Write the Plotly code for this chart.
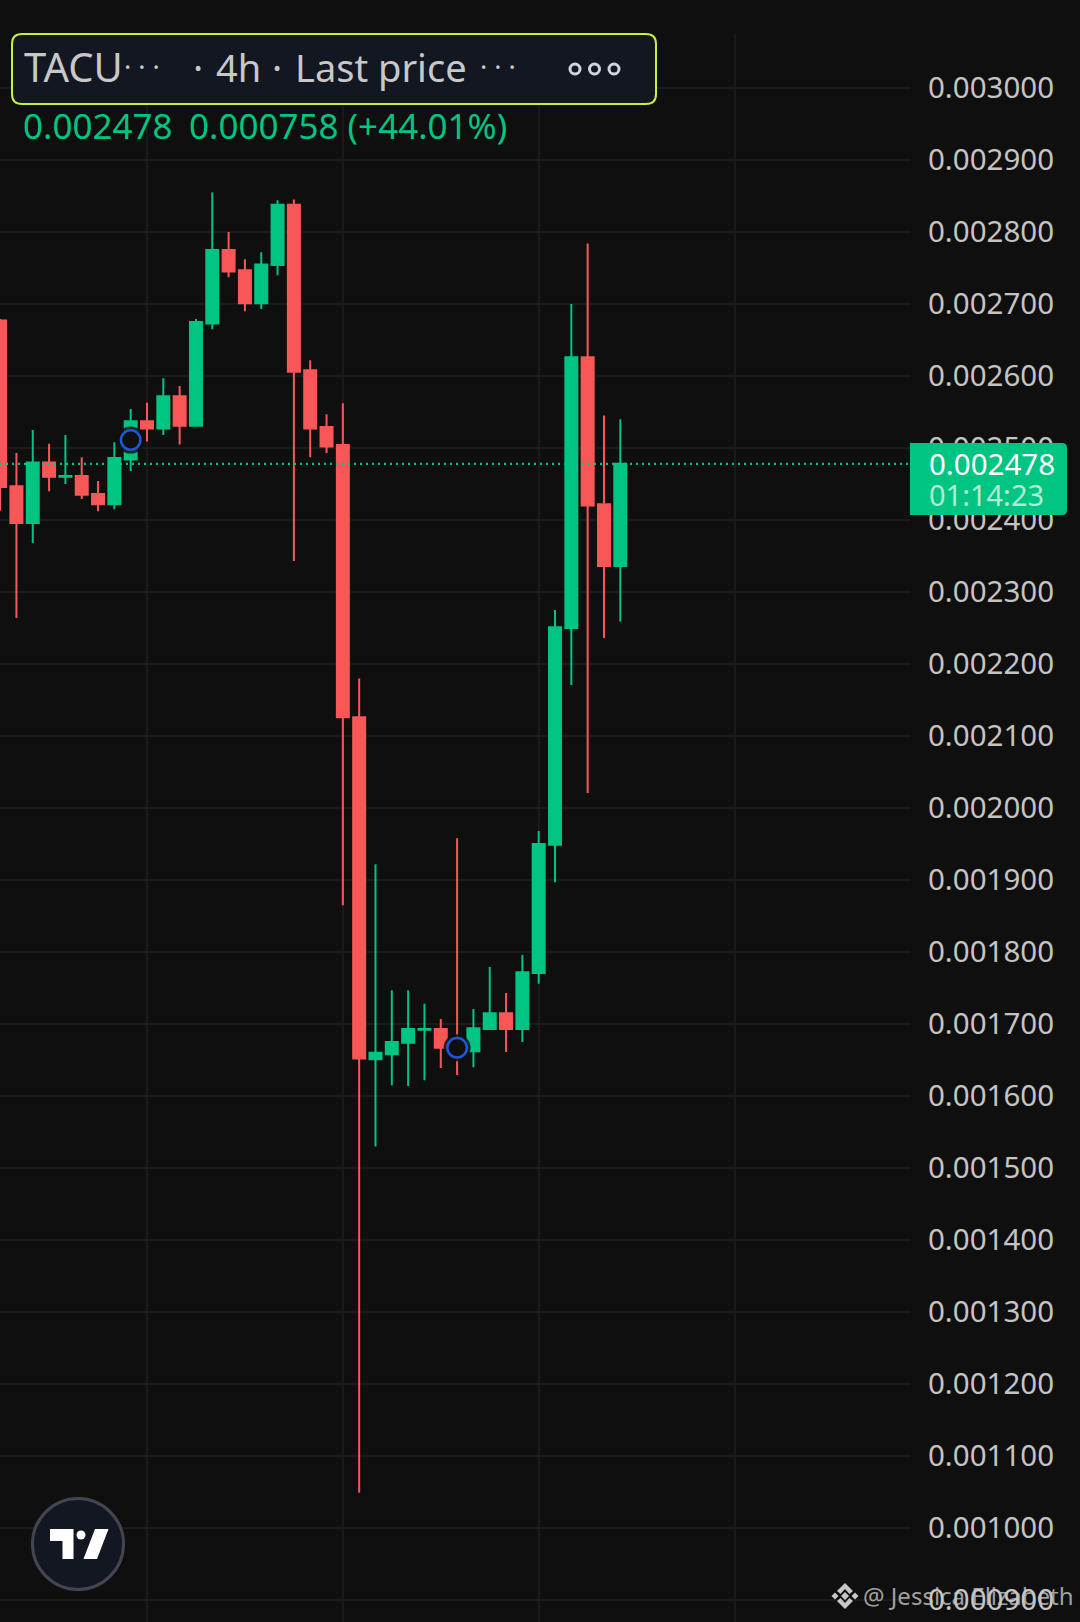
import plotly.graph_objects as go

W, H = 1080, 1622

# candles
idx = list(range(39))
open_ = [0.002677, 0.002447, 0.002396, 0.002480, 0.002460, 0.002461, 0.002436, 0.002422, 0.002484, 0.002537,
         0.002527, 0.002572, 0.002531, 0.002673, 0.002775, 0.002747, 0.002701, 0.002754, 0.002838, 0.002608,
         0.002529, 0.002504, 0.002126, 0.001651, 0.001658, 0.001674, 0.001692, 0.001693, 0.001667, 0.001662,
         0.001693, 0.001715, 0.001693, 0.001771, 0.001949, 0.002250, 0.002626, 0.002422, 0.002336]
high = [0.002679, 0.002493, 0.002525, 0.002506, 0.002518, 0.002487, 0.002454, 0.002508, 0.002554, 0.002563,
        0.002597, 0.002586, 0.002679, 0.002855, 0.002800, 0.002762, 0.002772, 0.002844, 0.002845, 0.002622,
        0.002547, 0.002562, 0.002180, 0.001922, 0.001747, 0.001747, 0.001728, 0.001707, 0.001958, 0.001721,
        0.001779, 0.001743, 0.001796, 0.001968, 0.002275, 0.002700, 0.002784, 0.002545, 0.002540]
low = [0.002413, 0.002264, 0.002368, 0.002440, 0.002450, 0.002429, 0.002412, 0.002415, 0.002468, 0.002509,
       0.002518, 0.002505, 0.002531, 0.002665, 0.002737, 0.002690, 0.002693, 0.002740, 0.002343, 0.002487,
       0.002493, 0.001865, 0.001049, 0.001530, 0.001615, 0.001614, 0.001622, 0.001639, 0.001629, 0.001640,
       0.001693, 0.001661, 0.001675, 0.001756, 0.001897, 0.002171, 0.002021, 0.002236, 0.002259]
close = [0.002446, 0.002396, 0.002480, 0.002460, 0.002461, 0.002435, 0.002422, 0.002486, 0.002537, 0.002527,
         0.002572, 0.002531, 0.002675, 0.002775, 0.002745, 0.002701, 0.002755, 0.002838, 0.002606, 0.002527,
         0.002502, 0.002126, 0.001652, 0.001660, 0.001675, 0.001693, 0.001693, 0.001667, 0.001665, 0.001694,
         0.001715, 0.001693, 0.001772, 0.001950, 0.002251, 0.002626, 0.002420, 0.002336, 0.002478]

price_ticks = [0.0030, 0.0029, 0.0028, 0.0027, 0.0026, 0.0025, 0.0024, 0.0023, 0.0022, 0.0021, 0.0020, 0.0019,
               0.0018, 0.0017, 0.0016, 0.0015, 0.0014, 0.0013, 0.0012, 0.0011, 0.0010, 0.0009]
price_labels = ["%.6f" % p for p in price_ticks]
time_ticks = [9, 21, 33, 45]

last_price = 0.002478
marker_x = [8, 28]
marker_y = [0.002511, 0.001667]

BG = "#0f0f0f"
GRID = "#1a1a1a"
GREEN = "#00c482"
RED = "#f95757"
FONT = "Noto Sans"


def px(x):
    return x / W


def py(y):
    return 1 - y / H


def poly(points):
    return "M" + " L".join(f"{px(x):.5f},{py(y):.5f}" for x, y in points) + " Z"


def round_rect(x0, y0, x1, y1, r, left=True):
    a, b = (r, r) if left else (0, 0)
    return (f"M{px(x0 + a):.5f},{py(y0):.5f} L{px(x1 - r):.5f},{py(y0):.5f} "
            f"Q{px(x1):.5f},{py(y0):.5f} {px(x1):.5f},{py(y0 + r):.5f} "
            f"L{px(x1):.5f},{py(y1 - r):.5f} Q{px(x1):.5f},{py(y1):.5f} {px(x1 - r):.5f},{py(y1):.5f} "
            f"L{px(x0 + a):.5f},{py(y1):.5f} Q{px(x0):.5f},{py(y1):.5f} {px(x0):.5f},{py(y1 - b):.5f} "
            f"L{px(x0):.5f},{py(y0 + b):.5f} Q{px(x0):.5f},{py(y0):.5f} {px(x0 + a):.5f},{py(y0):.5f} Z")


def pshape(path, fill, line=None, width=0):
    return dict(type="path", xref="paper", yref="paper", path=path, fillcolor=fill, layer="above",
                line=dict(color=line or fill, width=width))


def circle(cx, cy, r, fill, line, width):
    return dict(type="circle", xref="paper", yref="paper", x0=px(cx - r), x1=px(cx + r), y0=py(cy + r), y1=py(cy - r),
                fillcolor=fill, line=dict(color=line, width=width), layer="above")


def label(x, y, text, size, color):
    return dict(x=px(x), y=py(y), xref="paper", yref="paper", xanchor="left", yanchor="middle", text=text,
                showarrow=False, font=dict(family=FONT, size=size, color=color), borderpad=0)


fig = go.Figure()
fig.add_trace(go.Candlestick(x=idx, open=open_, high=high, low=low, close=close, whiskerwidth=0,
                             increasing=dict(line=dict(color=GREEN, width=2), fillcolor=GREEN),
                             decreasing=dict(line=dict(color=RED, width=2), fillcolor=RED)))
fig.add_trace(go.Scatter(x=marker_x, y=marker_y, mode="markers", hoverinfo="skip",
                         marker=dict(size=27, color=BG, opacity=0.85)))
fig.add_trace(go.Scatter(x=marker_x, y=marker_y, mode="markers", hoverinfo="skip",
                         marker=dict(size=19.5, color=BG, line=dict(color="#2056d8", width=2.5))))

shapes = [
    dict(type="line", xref="paper", yref="y", x0=0, x1=px(910), y0=last_price, y1=last_price, layer="above",
         line=dict(color=GREEN, width=2.4, dash="2px,4px")),
    # price tag on the axis
    pshape(round_rect(910, 443, 1067, 515, 5, left=False), GREEN),
    # header box
    pshape(round_rect(12, 34, 656, 104, 10), "#131722", "#c6f03c", 2),
    circle(575, 69, 5, "#131722", "#d1d4dc", 3),
    circle(594.5, 69, 5, "#131722", "#d1d4dc", 3),
    circle(614, 69, 5, "#131722", "#d1d4dc", 3),
    # TradingView badge
    circle(78, 1544, 45.5, "#131722", "#434651", 3),
    pshape(poly([(50, 1529), (73.5, 1529), (73.5, 1559), (62.5, 1559), (62.5, 1541), (50, 1541)]), "#ffffff"),
    circle(81, 1535, 4.5, "#ffffff", "#ffffff", 0),
    pshape(poly([(95, 1529), (108.5, 1529), (97, 1559), (83.5, 1559)]), "#ffffff"),
]

# watermark logo
wm = "#c8c8c8"
shapes += [
    pshape(poly([(845, 1583), (853, 1591), (849.5, 1594), (845, 1589), (840.5, 1594), (837, 1591)]), wm),
    pshape(poly([(845, 1609), (853, 1601), (849.5, 1598), (845, 1603), (840.5, 1598), (837, 1601)]), wm),
    pshape(poly([(845, 1592), (849, 1596), (845, 1600), (841, 1596)]), wm),
    pshape(poly([(835, 1592.5), (838.5, 1596), (835, 1599.5), (831.5, 1596)]), wm),
    pshape(poly([(855, 1592.5), (858.5, 1596), (855, 1599.5), (851.5, 1596)]), wm),
]

annotations = [
    label(23, 66, "TACU", 40, "#c8c8c8"),
    label(123, 66, "· · ·", 27, "#c8c8c8"),
    label(192, 67, "·", 38, "#c8c8c8"),
    label(215, 67, "4h", 38, "#c8c8c8"),
    label(271, 67, "·", 38, "#c8c8c8"),
    label(294, 67, "Last price", 38, "#c8c8c8"),
    label(479, 66, "· · ·", 27, "#c8c8c8"),
    label(22, 126, "0.002478", 35, GREEN),
    label(188, 126, "0.000758 (+44.01%)", 35, GREEN),
    label(928, 463, "0.002478", 29.5, "#ffffff"),
    label(928, 495, "01:14:23", 29, "rgba(255,255,255,0.7)"),
    label(862, 1595, "@ Jessica Elizabeth", 24, "rgba(200,200,200,0.8)"),
]

fig.update_layout(
    width=W, height=H, autosize=False, margin=dict(l=0, r=0, t=0, b=0),
    paper_bgcolor=BG, plot_bgcolor=BG, showlegend=False, boxgap=0.265, boxgroupgap=0,
    shapes=shapes, annotations=annotations,
    xaxis=dict(domain=[0, px(910)], range=[-0.007, 55.75], tickvals=time_ticks, showticklabels=False,
               gridcolor=GRID, gridwidth=1.5, zeroline=False, showline=False, rangeslider=dict(visible=False)),
    yaxis=dict(domain=[0, py(33)], range=[0.00086944, 0.00307639], side="right", tickvals=price_ticks,
               ticktext=price_labels, ticklabelstandoff=17, gridcolor=GRID, gridwidth=1.5, zeroline=False,
               showline=False, tickfont=dict(family=FONT, size=29.5, color="#c4c4c4")),
)
fig.write_html("out.html", config=dict(displayModeBar=False),
               post_script="document.body.style.margin='0';")
